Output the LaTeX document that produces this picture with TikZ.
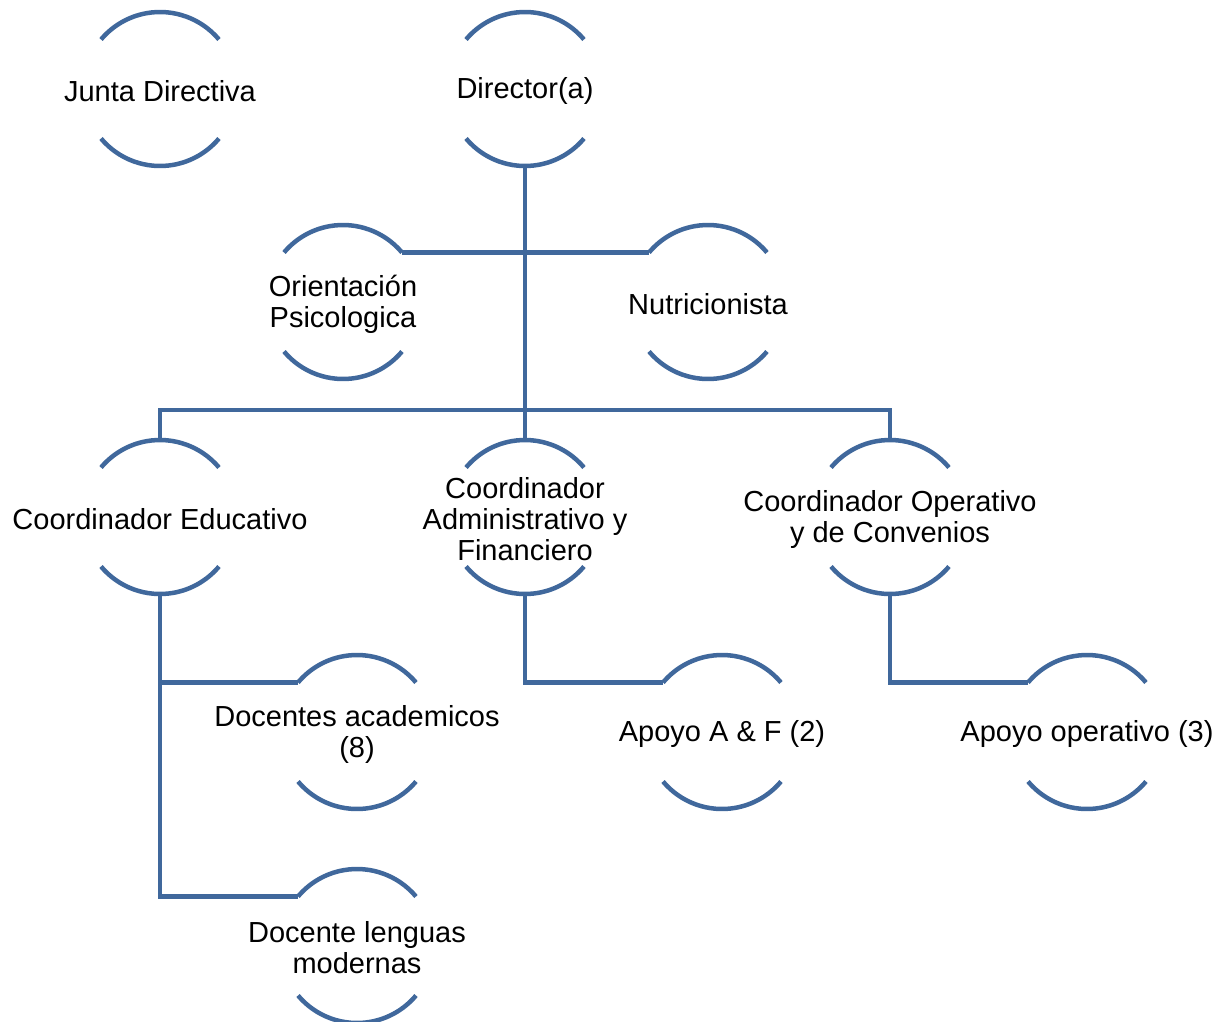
\documentclass[tikz,border=0pt]{standalone}
\usepackage{fontspec}
\setmainfont{Liberation Sans}
\definecolor{orgblue}{RGB}{64,104,156}
\begin{document}
\begin{tikzpicture}[x=1pt,y=1pt,
  unit/.style={circle,minimum size=154pt,inner sep=0pt,outer sep=0pt},
  unittext/.style={align=center,inner sep=0pt,text=black,yshift=-2pt,
    font=\fontsize{29}{31}\selectfont},
  ring/.style={draw=orgblue,line width=4.5pt},
  link/.style={draw=orgblue,line width=4.5pt}]
\useasboundingbox (0,0) rectangle (1221,-1021);

% units: empty circle carrying the anchors, text placed on top
\newcommand\orgunit[3]{%
  \node[unit] (#1) at (#2) {};
  \node[unittext] (#1-text) at (#1) {#3};}

\orgunit{jd}{160,-89}{Junta Directiva}
\orgunit{dir}{525,-89}{Director(a)}
\orgunit{op}{343,-302}{Orientación\\Psicologica}
\orgunit{nu}{708,-302}{Nutricionista}
\orgunit{ce}{160,-517}{Coordinador Educativo}
\orgunit{ca}{525,-517}{Coordinador\\Administrativo y\\Financiero}
\orgunit{co}{890,-517}{Coordinador Operativo\\y de Convenios}
\orgunit{da}{357,-732}{Docentes academicos\\(8)}
\orgunit{af}{722,-732}{Apoyo A \& F (2)}
\orgunit{ao}{1087,-732}{Apoyo operativo (3)}
\orgunit{dl}{357,-946}{Docente lenguas\\modernas}

% upper and lower arcs of every unit
\foreach \n in {jd,dir,op,nu,ce,ca,co,da,af,ao,dl}{
  \draw[ring] (\n.40) arc[start angle=40,end angle=140,radius=77pt];
  \draw[ring] (\n.220) arc[start angle=220,end angle=320,radius=77pt];
}

% connectors
\coordinate (bus) at (525,-410);
\draw[link] (dir.south) -- (ca.north);
\draw[link] (op.40) -- (nu.140);
\draw[link] (ce.north) |- (bus) -| (co.north);
\draw[link] (ce.south) |- (da.140);
\draw[link] (ce.south) |- (dl.140);
\draw[link] (ca.south) |- (af.140);
\draw[link] (co.south) |- (ao.140);
\end{tikzpicture}
\end{document}
